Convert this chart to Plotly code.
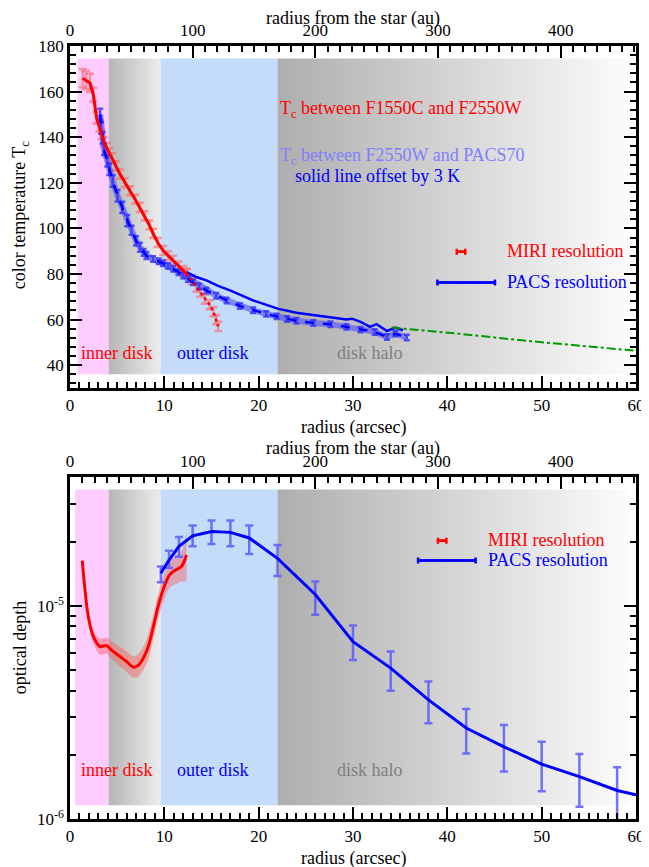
import plotly.graph_objects as go

AU_PER_ARCSEC = 7.69

# ---------------- top panel: colour temperature ----------------
red_x = [1.34, 1.7, 2.12, 2.47, 2.82, 3.1, 3.35, 3.6, 3.88, 4.15, 4.41, 4.85, 5.3, 5.8,
         6.35, 6.9, 7.4, 7.9, 8.4, 8.8, 9.3, 9.87, 10.4, 10.93, 11.5, 12.0, 12.35]
red_T = [165.9, 165.0, 163.8, 158.7, 148.5, 144.5, 141.2, 138.0, 135.4, 133.0, 131.0, 127.5,
         123.8, 120.0, 116.5, 112.8, 109.2, 105.5, 101.5, 97.8, 93.8, 90.3, 88.0, 86.0, 83.5,
         81.5, 80.2]
red_err = [4, 4, 4, 3, 2.5, 2, 2, 2, 2, 2, 2, 2, 2, 2, 2, 2, 2, 2, 2, 2, 2, 2, 2, 2, 2, 2, 2]

red_tail_x = [12.35, 12.9, 13.4, 13.8, 14.3, 14.8, 15.2, 15.5, 15.7]
red_tail_T = [80.2, 77.5, 74.2, 72.0, 68.9, 66.5, 63.5, 60.0, 57.0]
red_tail_err = [2, 2, 2, 2, 2, 2, 2, 2, 2]

blue_x = [3.2, 3.3, 3.45, 3.6, 3.95, 4.16, 4.52, 5.04, 5.54, 6.07, 6.53, 7.0, 7.41, 7.8, 8.1,
          8.8, 9.4, 9.87, 10.4, 10.93, 11.5, 12.0, 12.5, 13.05, 13.7, 14.46, 15.5, 16.6, 18.0,
          19.4, 20.8, 21.9, 23.0, 24.0, 25.8, 27.6, 29.3, 30.8, 32.3, 33.6, 34.5, 35.7]
blue_T = [150.0, 144.0, 139.7, 134.7, 129.6, 125.9, 120.8, 114.3, 109.2, 103.4, 99.2, 94.5,
          91.7, 89.5, 88.1, 86.6, 85.6, 84.7, 83.5, 82.3, 80.8, 79.3, 77.8, 76.4, 74.5, 72.8,
          70.5, 68.4, 66.0, 64.1, 62.5, 61.4, 60.3, 59.5, 58.5, 58.0, 56.8, 55.6, 54.6, 52.4,
          53.9, 52.1]
blue_err = [2.5, 2.5, 2.5, 2.5, 2.5, 2.5, 2.5, 2.5, 2.5, 2.5, 2.0, 2.0, 2.0, 1.5, 1.5,
            1.2, 1.2, 1.2, 1.2, 1.2, 1.2, 1.2, 1.2, 1.2, 1.2, 1.2, 1.2, 1.2, 1.2,
            1.2, 1.2, 1.2, 1.2, 1.2, 1.2, 1.2, 1.2, 1.2, 1.2, 1.2, 1.2, 1.2]

solid_x = [12.35, 13.3, 14.46, 15.7, 16.96, 18.2, 19.4, 20.6, 22.0, 24.0, 25.8, 27.6, 29.3,
           29.9, 30.8, 31.8, 32.5, 33.6, 34.5, 35.3]
solid_T = [80.8, 78.8, 77.2, 74.8, 72.8, 70.5, 68.4, 66.8, 64.8, 63.0, 61.9, 61.1, 60.0,
           60.4, 59.0, 56.8, 58.0, 55.0, 56.5, 55.3]

green_x = [34.1, 41.0, 47.6, 54.0, 60.0]
green_T = [56.5, 53.9, 51.0, 48.6, 46.3]

miri_res_top = (41.45, 0.45, 89.8)   # centre, half-width (arcsec), T
pacs_res_top = (42.0, 3.05, 76.3)

# ---------------- bottom panel: optical depth ----------------
tau_red_x = [1.3, 1.59, 1.94, 2.47, 3.17, 3.88, 4.41, 5.3, 6.0, 6.7, 7.24, 7.77, 8.3, 8.8,
             9.34, 9.87, 10.58, 11.29, 11.82, 12.35]
tau_red = [1.63e-5, 1.19e-5, 8.9e-6, 7.18e-6, 6.44e-6, 6.5e-6, 6.2e-6, 5.78e-6, 5.48e-6,
           5.16e-6, 5.26e-6, 5.68e-6, 6.44e-6, 7.86e-6, 9.94e-6, 1.19e-5, 1.40e-5, 1.48e-5,
           1.53e-5, 1.73e-5]
tau_red_lo = [1.58e-5, 1.15e-5, 8.5e-6, 6.7e-6, 5.9e-6, 5.95e-6, 5.65e-6, 5.2e-6, 4.9e-6,
              4.6e-6, 4.65e-6, 5.0e-6, 5.6e-6, 6.9e-6, 8.7e-6, 1.04e-5, 1.22e-5, 1.27e-5,
              1.30e-5, 1.30e-5]
tau_red_hi = [1.68e-5, 1.23e-5, 9.3e-6, 7.7e-6, 7.0e-6, 7.1e-6, 6.8e-6, 6.4e-6, 6.1e-6,
              5.8e-6, 5.95e-6, 6.45e-6, 7.4e-6, 8.95e-6, 1.13e-5, 1.37e-5, 1.61e-5, 1.72e-5,
              1.80e-5, 2.20e-5]

tau_blue_x = [9.63, 10.5, 11.55, 13.0, 15.0, 17.0, 19.0, 22.0, 26.0, 30.0, 34.0, 38.0, 42.0,
              46.0, 50.0, 54.0, 58.0, 60.0]
tau_blue = [1.42e-5, 1.64e-5, 1.90e-5, 2.13e-5, 2.23e-5, 2.21e-5, 2.08e-5, 1.67e-5, 1.13e-5,
            6.79e-6, 5.10e-6, 3.62e-6, 2.67e-6, 2.18e-6, 1.81e-6, 1.58e-6, 1.36e-6, 1.30e-6]
tau_blue_hi = [1.53e-5, 1.81e-5, 2.10e-5, 2.38e-5, 2.51e-5, 2.51e-5, 2.38e-5, 1.93e-5, 1.30e-5,
               8.09e-6, 6.10e-6, 4.41e-6, 3.28e-6, 2.76e-6, 2.30e-6, 2.02e-6, 1.75e-6, None]
tau_blue_lo = [1.29e-5, 1.51e-5, 1.70e-5, 1.90e-5, 1.95e-5, 1.90e-5, 1.75e-5, 1.38e-5, 9.08e-6,
               5.57e-6, 4.00e-6, 2.81e-6, 2.03e-6, 1.67e-6, 1.35e-6, 1.14e-6, 0.95e-6, None]

miri_res_bot = (39.45, 0.45, 2.02e-5)
pacs_res_bot = (39.95, 3.05, 1.63e-5)

# region boundaries (arcsec) and vertical extent of the shading
inner_start_top, inner_start_bot = 0.8, 0.55
inner_end, gap_end, outer_end, halo_end = 4.1, 9.6, 22.0, 59.4
shade_top = (36.0, 174.5)
shade_bot = (1.16e-6, 3.51e-5)

FONT = "Liberation Serif, Times New Roman, Times, serif"
RED = "#ff0000"
BLUE = "#0000ff"

fig = go.Figure()


def rect_fill(xa, xb, ys, xax, yax, color=None, grad=None):
    kw = dict(x=[xa, xb, xb, xa, xa], y=[ys[0], ys[0], ys[1], ys[1], ys[0]], mode="lines",
              line=dict(width=0), fill="toself", xaxis=xax, yaxis=yax, showlegend=False,
              hoverinfo="skip")
    if grad is None:
        kw["fillcolor"] = color
    else:
        kw["fillgradient"] = dict(type="horizontal", start=xa, stop=xb,
                                  colorscale=[[0, grad[0]], [1, grad[1]]])
    fig.add_trace(go.Scatter(**kw))


for xs, ys, xax, yax in [(inner_start_top, shade_top, "x", "y"), (inner_start_bot, shade_bot, "x2", "y2")]:
    rect_fill(xs, inner_end, ys, xax, yax, color="#ffccff")
    rect_fill(inner_end, gap_end, ys, xax, yax, grad=("rgb(182,182,182)", "rgb(236,236,236)"))
    rect_fill(gap_end, outer_end, ys, xax, yax, color="#c4dcfa")
    rect_fill(outer_end, halo_end, ys, xax, yax, grad=("rgb(174,174,174)", "rgb(252,252,252)"))

# ---- top panel traces ----
fig.add_trace(go.Scatter(x=red_x + red_tail_x, y=red_T + red_tail_T, mode="markers",
                         marker=dict(size=1, opacity=0),
                         error_y=dict(type="data", array=red_err + red_tail_err, color="rgba(255,90,90,0.55)",
                                      thickness=2.5, width=4),
                         xaxis="x", yaxis="y", showlegend=False, hoverinfo="skip"))
fig.add_trace(go.Scatter(x=blue_x, y=blue_T, mode="lines", line=dict(color="rgba(70,70,255,0.55)", width=6),
                         xaxis="x", yaxis="y", showlegend=False, hoverinfo="skip"))
fig.add_trace(go.Scatter(x=blue_x, y=blue_T, mode="lines",
                         line=dict(color=BLUE, width=2.5, dash="dash"),
                         error_y=dict(type="data", array=blue_err, color="rgba(40,40,255,0.75)",
                                      thickness=2.5, width=3),
                         xaxis="x", yaxis="y", showlegend=False))
fig.add_trace(go.Scatter(x=solid_x, y=solid_T, mode="lines", line=dict(color=BLUE, width=2.5),
                         xaxis="x", yaxis="y", showlegend=False))
fig.add_trace(go.Scatter(x=red_x, y=red_T, mode="lines", line=dict(color=RED, width=3),
                         xaxis="x", yaxis="y", showlegend=False))
fig.add_trace(go.Scatter(x=red_tail_x, y=red_tail_T, mode="lines",
                         line=dict(color=RED, width=2.5, dash="dot"),
                         xaxis="x", yaxis="y", showlegend=False))
fig.add_trace(go.Scatter(x=green_x, y=green_T, mode="lines",
                         line=dict(color="#009900", width=2, dash="dashdot"),
                         xaxis="x", yaxis="y", showlegend=False))
for (c, hw, yv), col in [(miri_res_top, RED), (pacs_res_top, BLUE)]:
    fig.add_trace(go.Scatter(x=[c - hw, c + hw], y=[yv, yv], mode="lines",
                             line=dict(color=col, width=2.5),
                             xaxis="x", yaxis="y", showlegend=False))
    fig.add_trace(go.Scatter(x=[c], y=[yv], mode="markers", marker=dict(size=1, opacity=0),
                             error_x=dict(type="data", array=[hw], color=col, thickness=2.5, width=3),
                             xaxis="x", yaxis="y", showlegend=False))
# dummy trace for the au axis
fig.add_trace(go.Scatter(x=[0], y=[100], mode="markers", marker=dict(opacity=0),
                         xaxis="x3", yaxis="y", showlegend=False, hoverinfo="skip"))

# ---- bottom panel traces ----
fig.add_trace(go.Scatter(x=tau_red_x, y=tau_red_hi, mode="lines", line=dict(width=0, shape="spline"),
                         xaxis="x2", yaxis="y2", showlegend=False, hoverinfo="skip"))
fig.add_trace(go.Scatter(x=tau_red_x, y=tau_red_lo, mode="lines", line=dict(width=0, shape="spline"),
                         fill="tonexty", fillcolor="rgba(255,80,80,0.42)",
                         xaxis="x2", yaxis="y2", showlegend=False, hoverinfo="skip"))
fig.add_trace(go.Scatter(x=tau_red_x, y=tau_red, mode="lines", line=dict(color=RED, width=3, shape="spline"),
                         xaxis="x2", yaxis="y2", showlegend=False))
err_up = [(h - v) if h is not None else 0 for h, v in zip(tau_blue_hi, tau_blue)]
err_dn = [(v - l) if l is not None else 0 for l, v in zip(tau_blue_lo, tau_blue)]
fig.add_trace(go.Scatter(x=tau_blue_x, y=tau_blue, mode="markers", marker=dict(size=1, opacity=0),
                         error_y=dict(type="data", array=err_up, arrayminus=err_dn,
                                      color="rgba(90,90,255,0.85)", thickness=2.5, width=4),
                         xaxis="x2", yaxis="y2", showlegend=False))
fig.add_trace(go.Scatter(x=tau_blue_x, y=tau_blue, mode="lines", line=dict(color=BLUE, width=3),
                         xaxis="x2", yaxis="y2", showlegend=False))
for (c, hw, yv), col in [(miri_res_bot, RED), (pacs_res_bot, BLUE)]:
    fig.add_trace(go.Scatter(x=[c - hw, c + hw], y=[yv, yv], mode="lines",
                             line=dict(color=col, width=2.5),
                             xaxis="x2", yaxis="y2", showlegend=False))
    fig.add_trace(go.Scatter(x=[c], y=[yv], mode="markers", marker=dict(size=1, opacity=0),
                             error_x=dict(type="data", array=[hw], color=col, thickness=2.5, width=3),
                             xaxis="x2", yaxis="y2", showlegend=False))
fig.add_trace(go.Scatter(x=[0], y=[1e-5], mode="markers", marker=dict(opacity=0),
                         xaxis="x4", yaxis="y2", showlegend=False, hoverinfo="skip"))


# ---- annotations ----
def ann(text, x, y, color, xref="x", yref="y", xanchor="left", angle=0, size=18):
    return dict(text=text, x=x, y=y, xref=xref, yref=yref, xanchor=xanchor, yanchor="middle",
                showarrow=False, textangle=angle, font=dict(family=FONT, size=size, color=color))


annotations = [
    ann("T<sub>c</sub> between F1550C and F2550W", 22.06, 152.3, RED),
    ann("T<sub>c</sub> between F2550W and PACS70", 22.06, 131.7, "#7f7fff"),
    ann("solid line offset by 3 K", 23.65, 123.0, BLUE),
    ann("MIRI resolution", 46.13, 90.3, RED),
    ann("PACS resolution", 46.13, 76.4, BLUE),
    ann("inner disk", 1.0, 45.3, RED),
    ann("outer disk", 11.1, 45.3, BLUE),
    ann("disk halo", 28.1, 45.3, "#808080"),
    ann("MIRI resolution", 44.1, -4.690, RED, "x2", "y2"),
    ann("PACS resolution", 44.1, -4.784, BLUE, "x2", "y2"),
    ann("inner disk", 1.0, -5.770, RED, "x2", "y2"),
    ann("outer disk", 11.1, -5.770, BLUE, "x2", "y2"),
    ann("disk halo", 28.1, -5.770, "#808080", "x2", "y2"),
    # axis titles
    ann("radius from the star (au)", 0.5, 1.0352, "black", "paper", "paper", "center"),
    ann("radius (arcsec)", 0.5, 0.5071, "black", "paper", "paper", "center"),
    ann("radius from the star (au)", 0.5, 0.4799, "black", "paper", "paper", "center"),
    ann("radius (arcsec)", 0.5, -0.0505, "black", "paper", "paper", "center"),
    ann("color temperature T<sub>c</sub>", -0.0883, 0.781, "black", "paper", "paper", "center", -90),
    ann("optical depth", -0.0883, 0.221, "black", "paper", "paper", "center", -90),
]

tickfont = dict(family=FONT, size=17, color="black")
common = dict(showline=True, linecolor="black", linewidth=2.5, ticks="inside", ticklen=12,
              tickwidth=2, tickcolor="black", showgrid=False, zeroline=False, tickfont=tickfont,
              automargin=False)
minor_common = dict(ticklen=6, tickwidth=2, tickcolor="black", ticks="inside")

top_dom = [0.5576, 1.0]
bot_dom = [0.0, 0.4424]
au_max = 60 * AU_PER_ARCSEC

# the page body has an 8 px default margin, so the figure is 8 px smaller
fig.update_layout(
    width=641, height=859, margin=dict(l=62, r=13, t=38, b=48, autoexpand=False),
    paper_bgcolor="white", plot_bgcolor="white", font=dict(family=FONT, color="black"),
    annotations=annotations,
    xaxis=dict(**common, domain=[0, 1], anchor="y", range=[0, 60], tickvals=[0, 10, 20, 30, 40, 50, 60],
               minor=dict(dtick=1, **minor_common)),
    yaxis=dict(**common, domain=top_dom, anchor="x", range=[30, 180], tickvals=[40, 60, 80, 100, 120, 140, 160, 180],
               mirror="ticks", minor=dict(dtick=4, tick0=0, **minor_common)),
    xaxis3=dict(**common, overlaying="x", anchor="y", side="top", range=[0, au_max],
                tickvals=[0, 100, 200, 300, 400], minor=dict(dtick=10, **minor_common)),
    xaxis2=dict(**common, domain=[0, 1], anchor="y2", range=[0, 60], tickvals=[0, 10, 20, 30, 40, 50, 60],
                minor=dict(dtick=1, **minor_common)),
    yaxis2=dict(**common, domain=bot_dom, anchor="x2", type="log", range=[-6, -4.396],
                tickvals=[1e-6, 1e-5], ticktext=["10<sup>-6</sup>", "10<sup>-5</sup>"], mirror="ticks",
                minor=dict(tickvals=[2e-6, 3e-6, 4e-6, 5e-6, 6e-6, 7e-6, 8e-6, 9e-6, 2e-5, 3e-5, 4e-5],
                           **minor_common)),
    xaxis4=dict(**common, overlaying="x2", anchor="y2", side="top", range=[0, au_max],
                tickvals=[0, 100, 200, 300, 400], minor=dict(dtick=10, **minor_common)),
)

fig.write_html("out.html")
